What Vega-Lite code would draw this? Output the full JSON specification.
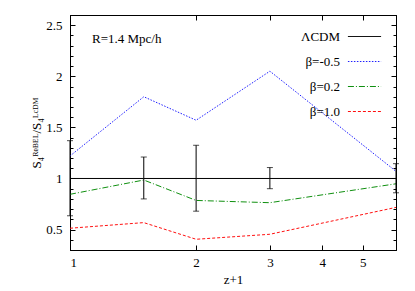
{
  "$schema": "https://vega.github.io/schema/vega-lite/v6.json",
  "width": 326,
  "height": 235,
  "autosize": "none",
  "padding": {"left": 70, "top": 15, "right": 19, "bottom": 41},
  "title": {"text": "R=1.4 Mpc/h", "anchor": "start", "frame": "group", "dx": 22, "offset": -37, "baseline": "middle", "font": "Liberation Serif", "fontSize": 13, "fontWeight": "normal", "color": "black"},
  "config": {
    "view": {"stroke": "black", "strokeWidth": 1},
    "font": "Liberation Serif",
    "axis": {"labelFont": "Liberation Serif", "titleFont": "Liberation Serif", "labelFontSize": 13, "titleFontSize": 13, "titleFontWeight": "normal", "labelColor": "black", "titleColor": "black", "domainColor": "black", "tickColor": "black", "grid": false},
    "legend": {"labelFont": "Liberation Serif", "labelFontSize": 13, "labelColor": "black"}
  },
  "datasets": {
    "lines": [
      {"zp1": 1, "model": "ΛCDM", "ratio": 1},
      {"zp1": 1.5, "model": "ΛCDM", "ratio": 1},
      {"zp1": 2, "model": "ΛCDM", "ratio": 1},
      {"zp1": 3, "model": "ΛCDM", "ratio": 1},
      {"zp1": 6, "model": "ΛCDM", "ratio": 1},
      {"zp1": 1, "model": "β=-0.5", "ratio": 1.22},
      {"zp1": 1.5, "model": "β=-0.5", "ratio": 1.8},
      {"zp1": 2, "model": "β=-0.5", "ratio": 1.57},
      {"zp1": 3, "model": "β=-0.5", "ratio": 2.05},
      {"zp1": 6, "model": "β=-0.5", "ratio": 1.07},
      {"zp1": 1, "model": "β=0.2", "ratio": 0.845},
      {"zp1": 1.5, "model": "β=0.2", "ratio": 0.985},
      {"zp1": 2, "model": "β=0.2", "ratio": 0.785},
      {"zp1": 3, "model": "β=0.2", "ratio": 0.763},
      {"zp1": 6, "model": "β=0.2", "ratio": 0.948},
      {"zp1": 1, "model": "β=1.0", "ratio": 0.513},
      {"zp1": 1.5, "model": "β=1.0", "ratio": 0.568},
      {"zp1": 2, "model": "β=1.0", "ratio": 0.405},
      {"zp1": 3, "model": "β=1.0", "ratio": 0.454},
      {"zp1": 6, "model": "β=1.0", "ratio": 0.717}
    ],
    "errors": [
      {"zp1": 1, "lo": 0.635, "hi": 1.37},
      {"zp1": 1.5, "lo": 0.8, "hi": 1.21},
      {"zp1": 2, "lo": 0.68, "hi": 1.325},
      {"zp1": 3, "lo": 0.9, "hi": 1.107},
      {"zp1": 6, "lo": 0.86, "hi": 1.145}
    ]
  },
  "layer": [
    {
      "data": {"name": "lines"},
      "mark": {"type": "line", "strokeWidth": 1},
      "encoding": {
        "x": {"field": "zp1", "type": "quantitative", "scale": {"type": "log", "domain": [1, 6], "nice": false},
              "axis": {"orient": "bottom", "values": [1, 2, 3, 4, 5], "title": "z+1", "tickSize": -5, "labelPadding": 11, "titlePadding": 4, "format": "d"}},
        "y": {"field": "ratio", "type": "quantitative", "scale": {"domain": [0.3, 2.6], "nice": false, "zero": false},
              "axis": {"orient": "left", "title": "S₄ᴿᵉᴮᴱᴸ/S₄ᴸᶜᴰᴹ", "titlePadding": 2,
                       "values": [0.3, 0.4, 0.5, 0.6, 0.7, 0.8, 0.9, 1, 1.1, 1.2, 1.3, 1.4, 1.5, 1.6, 1.7, 1.8, 1.9, 2, 2.1, 2.2, 2.3, 2.4, 2.5, 2.6],
                       "labelExpr": "indexof([0.5, 1, 1.5, 2, 2.5], datum.value) >= 0 ? toString(datum.value) : ''",
                       "tickSize": {"condition": {"test": "indexof([0.5, 1, 1.5, 2, 2.5], datum.value) >= 0", "value": -5}, "value": -3},
                       "labelPadding": 13}},
        "color": {"field": "model", "type": "nominal", "scale": {"domain": ["ΛCDM", "β=-0.5", "β=0.2", "β=1.0"], "range": ["black", "#2020ff", "#109010", "#ff1010"]},
                  "legend": {"title": null, "orient": "none", "legendX": 277, "legendY": 4, "symbolType": "stroke", "symbolSize": 1100, "symbolStrokeWidth": 1, "labelAlign": "right", "labelOffset": -42, "rowPadding": 0, "padding": 0,
                             "encode": {"symbols": {"update": {"stroke": {"scale": "color", "field": "value"}, "strokeDash": {"scale": "strokeDash", "field": "value"}}}}}},
        "strokeDash": {"field": "model", "type": "nominal", "scale": {"domain": ["ΛCDM", "β=-0.5", "β=0.2", "β=1.0"], "range": [[1, 0], [1.5, 1.5], [6, 2, 1, 2], [3, 2]]},
                  "legend": null}
      }
    },
    {
      "data": {"name": "errors"},
      "mark": {"type": "errorbar", "ticks": {"size": 6, "color": "black"}, "color": "black"},
      "encoding": {
        "x": {"field": "zp1", "type": "quantitative", "axis": {"orient": "top", "values": [1, 2, 3, 4, 5], "labels": false, "title": null, "tickSize": -5}},
        "y": {"field": "lo", "type": "quantitative", "axis": {"orient": "right", "labels": false, "title": null,
              "values": [0.3, 0.4, 0.5, 0.6, 0.7, 0.8, 0.9, 1, 1.1, 1.2, 1.3, 1.4, 1.5, 1.6, 1.7, 1.8, 1.9, 2, 2.1, 2.2, 2.3, 2.4, 2.5, 2.6],
              "tickSize": {"condition": {"test": "indexof([0.5, 1, 1.5, 2, 2.5], datum.value) >= 0", "value": -5}, "value": -3}}},
        "y2": {"field": "hi"}
      }
    }
  ],
  "resolve": {"axis": {"x": "independent", "y": "independent"}}
}
